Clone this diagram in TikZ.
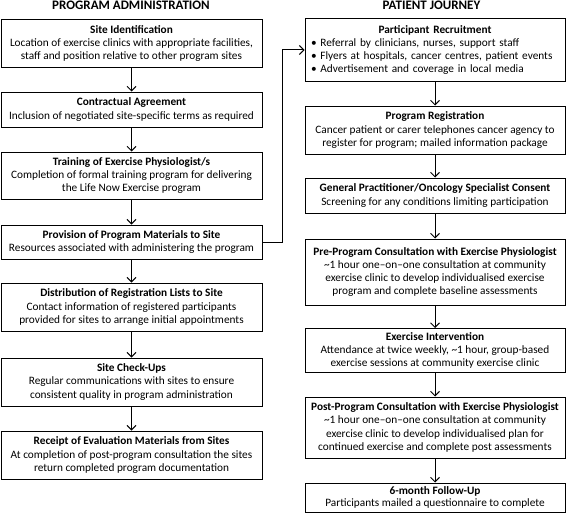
\documentclass[tikz,border=0pt]{standalone}
\usepackage{fontspec}
\setmainfont{Carlito}
\usetikzlibrary{arrows.meta}
\begin{document}
\begin{tikzpicture}[x=1pt,y=-1pt,
  box/.style={draw, line width=1pt, align=center, inner sep=0pt,
    font=\fontsize{11.3}{13.3}\selectfont},
  lbox/.style={box, minimum width=261pt},
  rbox/.style={box, minimum width=260pt},
  arr/.style={line width=1pt, -{Straight Barb[length=4.5pt,width=9pt,line width=1pt]}},
  head/.style={font=\fontsize{13}{14}\selectfont\bfseries, inner sep=0pt}]
\useasboundingbox (0,0) rectangle (567,519);
\node[head] (ht1) at (131,5) {PROGRAM ADMINISTRATION};
\node[head] (ht2) at (431.5,5) {PATIENT JOURNEY};
% left column
\node[lbox, minimum height=47pt] (l1) at (131.5,43.5) {\textbf{Site Identification}\\Location of exercise clinics with appropriate facilities,\\staff and position relative to other program sites};
\node[lbox, minimum height=35pt] (l2) at (131.5,109.5) {\textbf{Contractual Agreement}\\Inclusion of negotiated site-specific terms as required};
\node[lbox, minimum height=47pt] (l3) at (131.5,175.5) {\textbf{Training of Exercise Physiologist/s}\\Completion of formal training program for delivering\\the Life Now Exercise program};
\node[lbox, minimum height=34pt] (l4) at (131.5,242) {\textbf{Provision of Program Materials to Site}\\Resources associated with administering the program};
\node[lbox, minimum height=48pt] (l5) at (131.5,307) {\textbf{Distribution of Registration Lists to Site}\\Contact information of registered participants\\provided for sites to arrange initial appointments};
\node[lbox, minimum height=48pt] (l6) at (131.5,382) {\textbf{Site Check-Ups}\\Regular communications with sites to ensure\\consistent quality in program administration};
\node[lbox, minimum height=48pt] (l7) at (131.5,455) {\textbf{Receipt of Evaluation Materials from Sites}\\At completion of post-program consultation the sites\\return completed program documentation};
% right column
\node[rbox, minimum height=62pt, text width=248pt, inner xsep=6pt, align=left] (r1) at (435,50) {\hfill\textbf{Participant Recruitment}\hfill\null\\%
• Referral by clinicians, nurses, support staff\\%
• Flyers at hospitals, cancer centres, patient events\\%
• Advertisement and coverage in local media};
\node[rbox, minimum height=48pt] (r2) at (435,130) {\textbf{Program Registration}\\Cancer patient or carer telephones cancer agency to\\register for program; mailed information package};
\node[rbox, minimum height=35pt] (r3) at (435,195.5) {\textbf{General Practitioner/Oncology Specialist Consent}\\Screening for any conditions limiting participation};
\node[rbox, minimum height=66pt] (r4) at (435,272) {\textbf{Pre-Program Consultation with Exercise Physiologist}\\\textasciitilde1 hour one--on--one consultation at community\\exercise clinic to develop individualised exercise\\program and complete baseline assessments};
\node[rbox, minimum height=44pt] (r5) at (435,350.5) {\textbf{Exercise Intervention}\\Attendance at twice weekly, \textasciitilde1 hour, group-based\\exercise sessions at community exercise clinic};
\node[rbox, minimum height=61pt] (r6) at (435,427.5) {\textbf{Post-Program Consultation with Exercise Physiologist}\\\textasciitilde1 hour one--on--one consultation at community\\exercise clinic to develop individualised plan for\\continued exercise and complete post assessments};
\node[rbox, minimum height=29pt, font=\fontsize{11.3}{11.5}\selectfont] (r7) at (435,497.5) {\textbf{6-month Follow-Up}\\Participants mailed a questionnaire to complete};
% connectors
\foreach \a/\b in {l1/l2,l2/l3,l3/l4,l4/l5,l5/l6,l6/l7,r1/r2,r2/r3,r3/r4,r4/r5,r5/r6,r6/r7}
  \draw[arr] (\a.south) -- (\b.north);
\coordinate (turn) at (282,242);
\draw[arr] (l4.east) -- (turn) |- (r1.west);
\end{tikzpicture}
\end{document}
